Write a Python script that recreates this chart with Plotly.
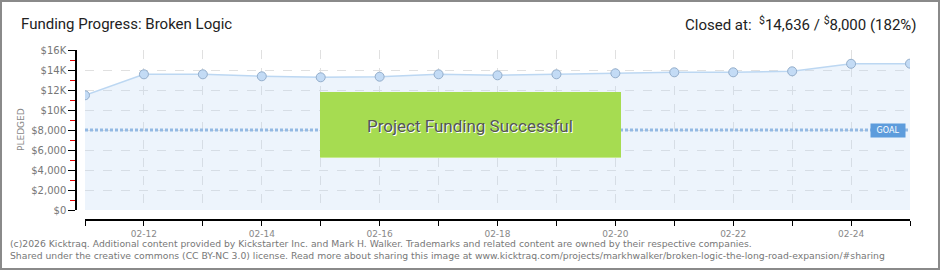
import plotly.graph_objects as go

# ---- data ----
dates = ["2026-02-11", "2026-02-12", "2026-02-13", "2026-02-14", "2026-02-15",
         "2026-02-16", "2026-02-17", "2026-02-18", "2026-02-19", "2026-02-20",
         "2026-02-21", "2026-02-22", "2026-02-23", "2026-02-24", "2026-02-25"]
pledged = [11470, 13570, 13570, 13370, 13270, 13330, 13570, 13470, 13570, 13670,
           13770, 13770, 13870, 14620, 14636]
goal = 8000
y_tickvals = [0, 2000, 4000, 6000, 8000, 10000, 12000, 14000, 16000]
y_ticktext = ["$0", "$2,000", "$4,000", "$6,000", "$8,000", "$10K", "$12K", "$14K", "$16K"]
y_minor = [1000, 3000, 5000, 7000, 9000, 11000, 13000, 15000]

title_left = "Funding Progress: Broken Logic"
title_right = "Closed at:  <sup>$</sup>14,636 / <sup>$</sup>8,000 (182%)"
footer1 = ("(c)2026 Kicktraq. Additional content provided by Kickstarter Inc. and Mark H. Walker. "
           "Trademarks and related content are owned by their respective companies.")
footer2 = ("Shared under the creative commons (CC BY-NC 3.0) license. Read more about sharing this image at "
           "www.kicktraq.com/projects/markhwalker/broken-logic-the-long-road-expansion/#sharing")

# ---- layout geometry (pixels) ----
W, H = 940, 270
L, R, T, B = 76, 30, 50, 50
PW = W - L - R
PH = H - T - B


def px(x):
    return (x - L) / PW


def py(y):
    return (H - B - y) / PH


GRID = "#e0e0e0"

fig = go.Figure()
fig.add_trace(go.Scatter(
    x=dates, y=pledged, mode="lines+markers", fill="tozeroy",
    fillcolor="rgba(183,211,243,0.25)",
    line=dict(color="#bcd7f2", width=1.5),
    marker=dict(size=9, color="#c3dbf5", line=dict(color="#94aecb", width=1)),
    hoverinfo="skip", showlegend=False,
))

shapes = [
    # goal line
    dict(type="line", xref="x domain", yref="y", x0=0, x1=1, y0=goal, y1=goal,
         line=dict(color="#93b9e3", width=3, dash="3px,2px"), layer="above"),
    # success box
    dict(type="rect", xref="paper", yref="paper",
         x0=px(320), x1=px(621), y0=py(158), y1=py(92),
         fillcolor="#a6dc51", line=dict(width=0), layer="above"),
    dict(type="line", xref="paper", yref="paper",
         x0=px(320), x1=px(621), y0=py(157.5), y1=py(157.5),
         line=dict(color="#c6ea8c", width=1), layer="above"),
    # border
    dict(type="rect", xref="paper", yref="paper",
         x0=px(1), x1=px(939), y0=py(269), y1=py(1),
         line=dict(color="#8a8a8a", width=2), fillcolor="rgba(0,0,0,0)"),
]

annotations = [
    dict(text=title_left, xref="paper", yref="paper", x=px(19), y=py(24),
         xanchor="left", yanchor="middle", showarrow=False,
         font=dict(family="Roboto", size=15, color="#222")),
    dict(text=title_right, xref="paper", yref="paper", x=px(919), y=py(24),
         xanchor="right", yanchor="middle", showarrow=False,
         font=dict(family="Roboto", size=15, color="#222")),
    dict(text="PLEDGED", xref="paper", yref="paper", x=px(21), y=py(129),
         xanchor="center", yanchor="middle", textangle=-90, showarrow=False,
         font=dict(family="DejaVu Sans", size=9, color="#888")),
    dict(text="Project Funding Successful", xref="paper", yref="paper",
         x=px(470), y=py(126), xanchor="center", yanchor="middle", showarrow=False,
         font=dict(family="Roboto", size=17, color="#555", shadow="1px 1px 0px #ffffff")),
    dict(text="GOAL", xref="paper", yref="y", x=px(888), y=goal,
         xanchor="center", yanchor="middle", showarrow=False,
         bgcolor="#5d9cdc", borderpad=2, width=30,
         font=dict(family="DejaVu Sans", size=8, color="#ffffff")),
    dict(text=footer1, xref="paper", yref="paper", x=px(8), y=py(243),
         xanchor="left", yanchor="middle", showarrow=False,
         font=dict(family="DejaVu Sans", size=9.25, color="#777")),
    dict(text=footer2, xref="paper", yref="paper", x=px(8), y=py(256),
         xanchor="left", yanchor="middle", showarrow=False,
         font=dict(family="DejaVu Sans", size=9.25, color="#777")),
]

fig.update_layout(
    width=W, height=H, margin=dict(l=L, r=R, t=T, b=B),
    paper_bgcolor="#ffffff", plot_bgcolor="#ffffff",
    shapes=shapes, annotations=annotations, showlegend=False,
    xaxis=dict(
        type="date", domain=[9 / PW, 1], anchor="free", position=0,
        range=["2026-02-11", "2026-02-25"],
        tick0="2026-02-12", dtick=2 * 86400000, tickformat="%m-%d",
        ticks="outside", ticklen=5, tickcolor="#000", tickwidth=1,
        showline=True, linecolor="#000", linewidth=1.5,
        showgrid=True, gridcolor=GRID, griddash="dash", gridwidth=1,
        tickfont=dict(family="DejaVu Sans", size=9, color="#888"),
        minor=dict(dtick=86400000, tick0="2026-02-11", ticks="outside", ticklen=5,
                   tickcolor="#000", showgrid=True, gridcolor=GRID, griddash="dash"),
        zeroline=False, fixedrange=True,
    ),
    yaxis=dict(
        domain=[10 / PH, 1], anchor="free", position=0,
        range=[0, 16000], tickmode="array", tickvals=y_tickvals, ticktext=y_ticktext,
        ticks="outside", ticklen=7, tickcolor="#000", tickwidth=1,
        showline=True, linecolor="#000", linewidth=1.5,
        showgrid=True, gridcolor=GRID, griddash="dash",
        tickfont=dict(family="DejaVu Sans", size=10, color="#777"),
        minor=dict(tickmode="array", tickvals=y_minor, ticks="outside", ticklen=5,
                   tickcolor="#e00000", showgrid=False),
        zeroline=False, fixedrange=True,
    ),
)

fig.write_html("out.html", config={"displayModeBar": False})
